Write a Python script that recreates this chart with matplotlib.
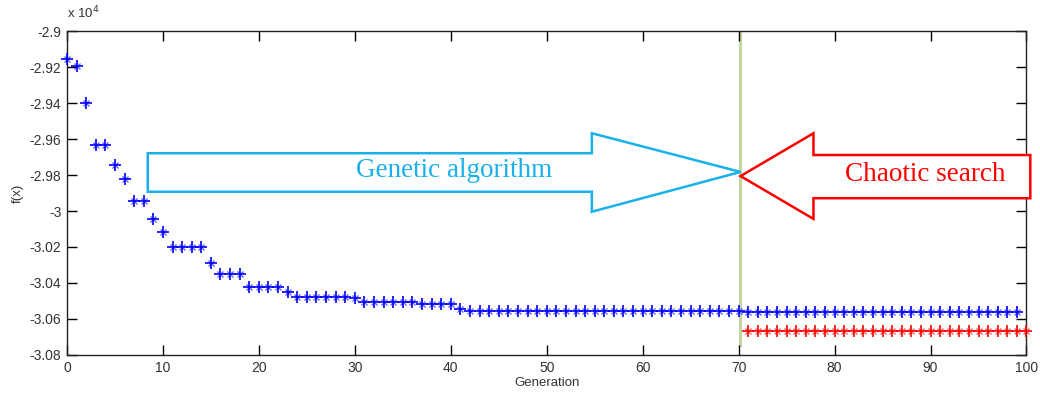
import matplotlib
matplotlib.use("Agg")
import matplotlib.pyplot as plt
from matplotlib.patches import Polygon
from matplotlib.ticker import FuncFormatter

# ---- data (values in units of 1e4) ----
ga_gen = list(range(0, 100))
ga_vals = [-2.9154, -2.9194, -2.9398, -2.9633, -2.9633, -2.9744, -2.9822, -2.9944, -2.9944, -3.0044,
           -3.0119, -3.0198, -3.0198, -3.0198, -3.0198, -3.0287, -3.0352, -3.0352, -3.0352, -3.0420,
           -3.0420, -3.0420, -3.0420, -3.0448, -3.0476, -3.0476, -3.0476, -3.0476, -3.0476, -3.0480,
           -3.0482, -3.0504, -3.0504, -3.0504, -3.0504, -3.0504, -3.0506, -3.0517, -3.0517, -3.0517,
           -3.0517, -3.0544] + [-3.0556] * 29 + [-3.0559] * 29
cs_gen = list(range(71, 101))
cs_vals = [-3.0667] * 30
switch_gen = 70.1

xticks = [0, 10, 20, 30, 40, 50, 60, 70, 80, 90, 100]
yticks = [-2.9, -2.92, -2.94, -2.96, -2.98, -3.0, -3.02, -3.04, -3.06, -3.08]

plt.rcParams['font.family'] = ['Liberation Sans', 'DejaVu Sans']

fig = plt.figure(figsize=(10.4, 3.94), dpi=100)
ax = fig.add_axes([0.0644, 0.099, 0.9226, 0.8223])

for xs, ys, c in [(ga_gen, ga_vals, '#0000ff'), (cs_gen, cs_vals, '#ff0000')]:
    ax.plot(xs, ys, linestyle='none', marker='+', markersize=9, markeredgewidth=1.2,
            color=c, clip_on=False, zorder=3)
    ax.plot(xs, ys, linestyle='none', marker='x', markersize=5, markeredgewidth=1.0,
            color=c, alpha=0.6, clip_on=False, zorder=3)
ax.plot([switch_gen, switch_gen], [-2.9013, -3.0745], color='#c3d69b', linewidth=2.2, zorder=1)

ax.set_xlim(0, 100)
ax.set_ylim(-3.08, -2.9)
ax.set_xticks(xticks)
ax.set_yticks(yticks)
ax.xaxis.set_major_formatter(FuncFormatter(lambda v, p: '%g' % v))
ax.yaxis.set_major_formatter(FuncFormatter(lambda v, p: ('%g' % v).replace('\u2212', '-')))
ax.tick_params(direction='in', length=7, width=1, top=True, right=True,
               labelsize=10, labelcolor='#333333', pad=4)
for s in ax.spines.values():
    s.set_linewidth(1)
    s.set_color('#222222')

ax.set_xlabel('Generation', fontsize=9.5, color='#333333', labelpad=2)
ax.set_ylabel('f(x)', fontsize=9.5, color='#333333', labelpad=4)
fig.text(0.064, 0.945, r'x 10$^4$', fontsize=9.5, color='#333333', ha='left', va='bottom')

# ---- arrows ----
blue = '#1ab0ea'
ga_arrow = [(8.42, -2.9679), (54.7, -2.9679), (54.7, -2.9568), (70.2, -2.9783),
            (54.7, -3.0004), (54.7, -2.9893), (8.42, -2.9893)]
ax.add_patch(Polygon(ga_arrow, closed=True, facecolor='white', edgecolor=blue,
                     linewidth=1.8, zorder=4))
cs_arrow = [(70.2, -2.9806), (77.8, -2.9568), (77.8, -2.9689), (100.4, -2.9689),
            (100.4, -2.9929), (77.8, -2.9929), (77.8, -3.0044)]
ax.add_patch(Polygon(cs_arrow, closed=True, facecolor='white', edgecolor='red',
                     linewidth=1.8, zorder=4, clip_on=False))

ax.text(40.4, -2.9775, 'Genetic algorithm', color=blue, fontsize=19.5,
        family=['Liberation Serif', 'DejaVu Serif'], ha='center', va='center', zorder=5)
ax.text(89.5, -2.9795, 'Chaotic search', color='red', fontsize=19.5,
        family=['Liberation Serif', 'DejaVu Serif'], ha='center', va='center', zorder=5)

fig.savefig('out.png', dpi=100)
